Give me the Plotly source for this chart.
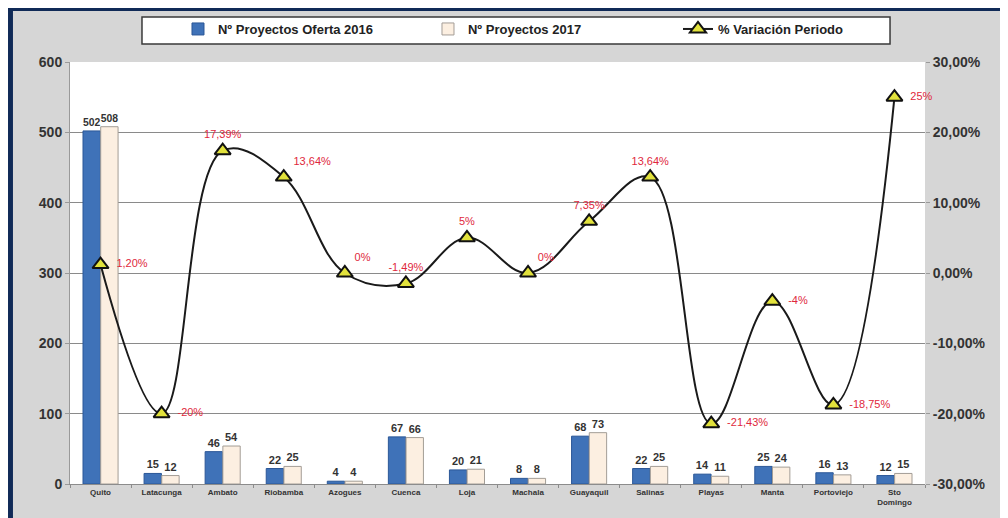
import plotly.graph_objects as go

categories = ["Quito", "Latacunga", "Ambato", "Riobamba", "Azogues", "Cuenca", "Loja",
              "Machala", "Guayaquil", "Salinas", "Playas", "Manta", "Portoviejo", "Sto<br>Domingo"]
proy_2016 = [502, 15, 46, 22, 4, 67, 20, 8, 68, 22, 14, 25, 16, 12]
proy_2017 = [508, 12, 54, 25, 4, 66, 21, 8, 73, 25, 11, 24, 13, 15]
variacion = [1.20, -20, 17.39, 13.64, 0, -1.49, 5, 0, 7.35, 13.64, -21.43, -4, -18.75, 25]
variacion_labels = ["1,20%", "-20%", "17,39%", "13,64%", "0%", "-1,49%", "5%", "0%",
                    "7,35%", "13,64%", "-21,43%", "-4%", "-18,75%", "25%"]
label_pos = ["middle right", "middle right", "top center", "top right", "top right", "top center",
             "top center", "top right", "top center", "top center", "middle right", "middle right",
             "middle right", "middle right"]
left_ticks = [0, 100, 200, 300, 400, 500, 600]
right_tickvals = [-30, -20, -10, 0, 10, 20, 30]
right_ticktext = ["-30,00%", "-20,00%", "-10,00%", "0,00%", "10,00%", "20,00%", "30,00%"]

FONT = "Liberation Sans"
PAD = "\u00a0\u00a0"
shown_labels = [(PAD + t) if p == "middle right" else t for t, p in zip(variacion_labels, label_pos)]

fig = go.Figure()
fig.add_trace(go.Bar(
    x=categories, y=proy_2016, name="Nº Proyectos Oferta 2016",
    marker=dict(color="#3f72b8", line=dict(color="#2b5797", width=1)),
    text=[str(v) for v in proy_2016], textposition="outside",
    textfont=dict(family=FONT, size=11, color="#333333", weight="bold"), cliponaxis=False,
))
fig.add_trace(go.Bar(
    x=categories, y=proy_2017, name="Nº Proyectos 2017",
    marker=dict(color="#fcefe1", line=dict(color="#a39d96", width=1)),
    text=[str(v) for v in proy_2017], textposition="outside",
    textfont=dict(family=FONT, size=11, color="#333333", weight="bold"), cliponaxis=False,
))
fig.add_trace(go.Scatter(
    x=categories, y=variacion, name="% Variación Periodo", yaxis="y2",
    mode="lines+markers+text", line=dict(color="#1a1a1a", width=2, shape="spline", smoothing=1.1),
    marker=dict(symbol="triangle-up", size=14, color="#e2e23c", line=dict(color="#111111", width=2)),
    text=shown_labels, textposition=label_pos,
    textfont=dict(family=FONT, size=11, color="#e0283c"), cliponaxis=False,
))

# figure is offset by the 8px page margin, so margins are set in figure pixels
shapes = [
    dict(type="rect", xref="paper", yref="paper", x0=-0.0725, x1=1.2, y0=1.1209, y1=1.2,
         fillcolor="#102a57", line_width=0),
    dict(type="rect", xref="paper", yref="paper", x0=-0.0725, x1=-0.0667, y0=-0.2, y1=1.2,
         fillcolor="#102a57", line_width=0),
    dict(type="rect", xref="paper", yref="paper", x0=0.0842, x1=0.9591, y0=1.0427, y1=1.1066,
         fillcolor="white", line=dict(color="#3a3a3a", width=1.5), layer="below"),
]

fig.update_layout(
    width=1008, height=518,
    margin=dict(l=62, r=91, t=54, b=42, autoexpand=False),
    paper_bgcolor="#d6d6d6", plot_bgcolor="white",
    barmode="group", bargap=0.42, bargroupgap=0.02,
    font=dict(family=FONT, color="#333333"),
    showlegend=True,
    legend=dict(orientation="h", x=0.1263, xanchor="left", y=1.1137, yanchor="top",
                bgcolor="rgba(0,0,0,0)", borderwidth=0,
                font=dict(family=FONT, size=13, color="#222222", weight="bold"),
                traceorder="normal", entrywidth=205, entrywidthmode="pixels"),
    xaxis=dict(range=[-0.5, len(categories) - 0.5], showgrid=False, showline=True,
               linecolor="#8c8c8c", ticks="outside", tickson="boundaries", ticklen=3,
               tickcolor="#8c8c8c", automargin=False,
               tickfont=dict(family=FONT, size=8, color="#333333", weight="bold")),
    yaxis=dict(range=[0, 600], tickvals=left_ticks, showgrid=True, gridcolor="#8a8a8a",
               gridwidth=1, zeroline=False, showline=True, linecolor="#9a9a9a", automargin=False,
               ticks="outside", ticklen=4, tickcolor="#9a9a9a",
               tickfont=dict(family=FONT, size=14, color="#333333", weight="bold")),
    yaxis2=dict(range=[-30, 30], overlaying="y", side="right", tickvals=right_tickvals,
                ticktext=right_ticktext, showgrid=False, zeroline=False, showline=False,
                automargin=False, ticks="outside", ticklen=4, tickcolor="#9a9a9a",
                tickfont=dict(family=FONT, size=14, color="#333333", weight="bold")),
    shapes=shapes,
)

fig.write_html("out.html")
